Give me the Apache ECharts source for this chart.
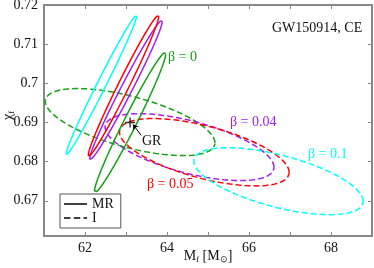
<!DOCTYPE html>
<html>
<head>
<meta charset="utf-8">
<script src="https://cdn.jsdelivr.net/npm/echarts@6/dist/echarts.min.js"></script>
<style>html,body{margin:0;padding:0;background:#fff}#c{width:374px;height:268px}</style>
</head>
<body>
<div id="c"></div>
<script>
// ---- data ----
const betaLabels = ['β = 0', 'β = 0.04', 'β = 0.05', 'β = 0.1'];
// MR (solid) error ellipses: centre, 1-sigma half extents and correlation
const mrCenterX = [63.10, 63.00, 62.94, 62.40];
const mrCenterY = [0.6900, 0.6983, 0.6994, 0.6996];
const mrHalfX   = [0.87, 0.885, 0.86, 0.86];
const mrHalfY   = [0.0179, 0.0178, 0.0180, 0.0178];
const mrRho     = [0.980, 0.985, 0.985, 0.990];
// I (dashed) error ellipses
const iCenterX = [63.10, 64.55, 64.91, 66.72];
const iCenterY = [0.6901, 0.6837, 0.6824, 0.6750];
const iHalfX   = [2.07, 2.06, 2.07, 2.065];
const iHalfY   = [0.00855, 0.00855, 0.0086, 0.00855];
const iRho     = [-0.62, -0.60, -0.60, -0.60];
// GR value
const grPoint = [63.10, 0.6900];
const grArrowFrom = [63.37, 0.6867];
const grArrowTo = [63.17, 0.6895];
// axis ticks
const xTickLabels = [62, 64, 66, 68];
const xTicks = [62, 63, 64, 65, 66, 67, 68];
const yTickLabels = [0.67, 0.68, 0.69, 0.70, 0.71, 0.72];

// ---- styles ----
const colors = ['#16a016', '#a020f0', '#ff0000', '#00ffff'];
const serif = 'Liberation Serif';

function ellipse(cx, cy, hx, hy, rho) {
  const pts = [];
  const s = Math.sqrt(1 - rho * rho);
  const n = 240;
  for (let k = 0; k <= n; k++) {
    const t = 2 * Math.PI * k / n;
    pts.push([cx + hx * Math.cos(t), cy + hy * (rho * Math.cos(t) + s * Math.sin(t))]);
  }
  return pts;
}

const series = [];
for (let i = 0; i < 4; i++) {
  series.push({
    type: 'line', xAxisIndex: 0, yAxisIndex: 0, showSymbol: false, symbol: 'none', silent: true,
    data: ellipse(iCenterX[i], iCenterY[i], iHalfX[i], iHalfY[i], iRho[i]),
    lineStyle: { color: colors[i], width: 1.5, type: [6, 3] }, z: 2
  });
}
for (let i = 0; i < 4; i++) {
  series.push({
    type: 'line', xAxisIndex: 0, yAxisIndex: 0, showSymbol: false, symbol: 'none', silent: true,
    data: ellipse(mrCenterX[i], mrCenterY[i], mrHalfX[i], mrHalfY[i], mrRho[i]),
    lineStyle: { color: colors[i], width: 1.5 }, z: 3
  });
}
series.push({
  type: 'scatter', data: [grPoint], symbol: 'path://M4.3,0h1.4v10h-1.4z M0,4.3h10v1.4h-10z',
  symbolSize: 10, itemStyle: { color: '#000' }, z: 5
});
series.push({
  type: 'lines', coordinateSystem: 'cartesian2d', data: [{ coords: [grArrowFrom, grArrowTo] }],
  symbol: ['none', 'arrow'], symbolSize: 5, lineStyle: { color: '#000', width: 1, opacity: 1 }, z: 5
});
series.push({ type: 'line', name: 'MR', data: [], symbol: 'none', lineStyle: { color: '#000', width: 1.5 }, itemStyle: { color: '#000' } });
series.push({ type: 'line', name: 'I', data: [], symbol: 'none', lineStyle: { color: '#000', width: 1.5, type: [6, 3] }, itemStyle: { color: '#000' } });

const axisLine = { show: true, lineStyle: { color: '#888', width: 2 } };
const labelFont = { fontFamily: serif, fontSize: 14, color: '#111' };

const option = {
  animation: false,
  grid: { left: 44, right: 2, top: 5, bottom: 32, outerBoundsMode: 'none', containLabel: false },
  legend: {
    data: [
      { name: 'MR', icon: 'path://M0,0h23v1.5h-23z' },
      { name: 'I', icon: 'path://M0,0h6.5v1.5h-6.5z M9.8,0h6.5v1.5h-6.5z M19.6,0h3.4v1.5h-3.4z' }
    ],
    orient: 'vertical', left: 60, top: 194, symbolKeepAspect: true,
    itemWidth: 23, itemHeight: 8, itemGap: 0, padding: [3, 7, 3, 4],
    borderColor: '#555', borderWidth: 1, backgroundColor: '#fff',
    textStyle: { fontFamily: serif, fontSize: 14, color: '#111', lineHeight: 11 }
  },
  xAxis: [{
    type: 'value', min: 61, max: 69, position: 'bottom',
    axisLine, splitLine: { show: false },
    axisTick: { inside: true, length: 4, customValues: xTicks, lineStyle: { color: '#888', width: 1 } },
    axisLabel: Object.assign({ customValues: xTickLabels, margin: 5 }, labelFont),
    name: '{a|M}{s|f}{a| [M}{s|⊙}{a|]}', nameLocation: 'middle', nameGap: 13, nameMoveOverlap: false,
    nameTextStyle: { rich: {
      a: { fontFamily: serif, fontSize: 14, color: '#111' },
      s: { fontFamily: serif, fontSize: 9, color: '#111', padding: [6, 0, 0, 0] }
    } }
  }, {
    type: 'value', min: 61, max: 69, position: 'top',
    axisLine, splitLine: { show: false },
    axisTick: { inside: true, length: 4, customValues: xTicks, lineStyle: { color: '#888', width: 1 } },
    axisLabel: { show: false }
  }],
  yAxis: [{
    type: 'value', min: 0.661, max: 0.72, position: 'left',
    axisLine, splitLine: { show: false },
    axisTick: { inside: true, length: 4, customValues: yTickLabels, lineStyle: { color: '#888', width: 1 } },
    axisLabel: Object.assign({ customValues: yTickLabels, margin: 6 }, labelFont),
    name: '{a|χ}{s|f}', nameLocation: 'middle', nameGap: 28, nameRotate: 90, nameMoveOverlap: false,
    nameTextStyle: { padding: [0, 0, 0, 10], rich: {
      a: { fontFamily: serif, fontSize: 15, color: '#111' },
      s: { fontFamily: serif, fontSize: 9, color: '#111', padding: [6, 0, 0, 0] }
    } }
  }, {
    type: 'value', min: 0.661, max: 0.72, position: 'right',
    axisLine, splitLine: { show: false },
    axisTick: { inside: true, length: 4, customValues: yTickLabels, lineStyle: { color: '#888', width: 1 } },
    axisLabel: { show: false }
  }],
  graphic: [
    { type: 'text', left: 272, top: 21, style: { text: 'GW150914, CE', font: '14px "Liberation Serif"', fill: '#111' } },
    { type: 'text', left: 168, top: 50, style: { text: betaLabels[0], font: '14px "Liberation Serif"', fill: colors[0] } },
    { type: 'text', left: 230, top: 115, style: { text: betaLabels[1], font: '14px "Liberation Serif"', fill: colors[1] } },
    { type: 'text', left: 147, top: 177, style: { text: betaLabels[2], font: '14px "Liberation Serif"', fill: colors[2] } },
    { type: 'text', left: 308, top: 147, style: { text: betaLabels[3], font: '14px "Liberation Serif"', fill: colors[3] } },
    { type: 'text', left: 142, top: 134, style: { text: 'GR', font: '14px "Liberation Serif"', fill: '#111' } }
  ],
  series
};
const chart = echarts.init(document.getElementById('c'), null, { renderer: 'canvas' });
chart.setOption(option);
</script>
</body>
</html>
